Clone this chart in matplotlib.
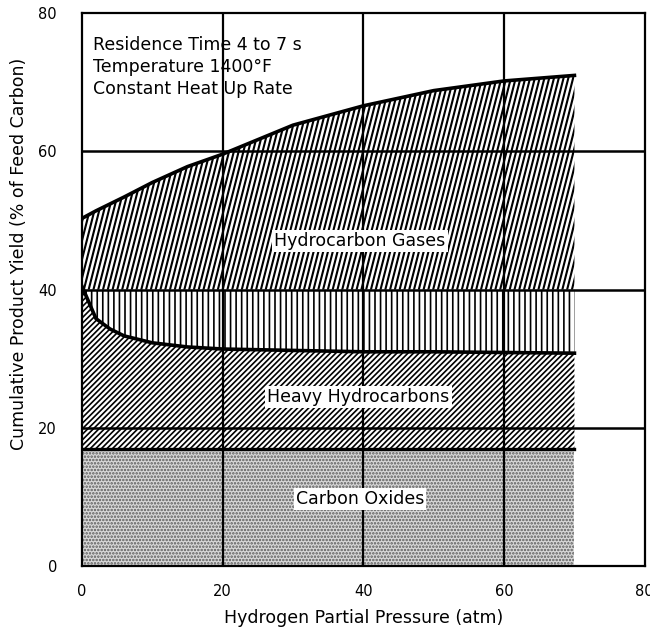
import numpy as np
import matplotlib
matplotlib.use('Agg')
import matplotlib.pyplot as plt
from matplotlib.collections import LineCollection

plt.rcParams['font.family'] = ['DejaVu Sans']
plt.rcParams['hatch.linewidth'] = 1.2

# hydrogen partial pressure (atm) and cumulative yields (% of feed carbon)
pressure = [0, 2, 4, 6, 10, 15, 20, 30, 40, 50, 60, 70]
oxides_top = [17.0, 17.0, 17.0, 17.0, 17.0, 17.0, 17.0, 17.0, 17.0, 17.0, 17.0, 17.0]
heavy_top = [40.5, 35.8, 34.3, 33.3, 32.3, 31.7, 31.4, 31.2, 31.0, 31.0, 30.9, 30.8]
gases_top = [50.3, 51.4, 52.4, 53.4, 55.5, 57.8, 59.6, 63.8, 66.6, 68.8, 70.2, 71.0]

x_ticks = [0, 20, 40, 60, 80]
y_ticks = [0, 20, 40, 60, 80]

fig = plt.figure(figsize=(6.5, 6.3), dpi=100)
ax = fig.add_axes([0.126, 0.1016, 0.866, 0.8774])
ax.set_xlim(0, 80)
ax.set_ylim(0, 80)

# carbon oxides: grey stipple
ax.fill_between(pressure, 0, oxides_top, facecolor='#d8d8d8', edgecolor='#5a5a5a',
                hatch='.....', linewidth=0, zorder=1)
# heavy hydrocarbons: 45 degree hatch
ax.fill_between(pressure, oxides_top, heavy_top, facecolor='white', edgecolor='black',
                hatch='//////', linewidth=0, zorder=1)
# hydrocarbon gases below 40: vertical hatch
lower = np.minimum(np.array(gases_top), 40)
ax.fill_between(pressure, heavy_top, lower, facecolor='white', edgecolor='black',
                hatch='|||', linewidth=0, zorder=1)
# hydrocarbon gases above 40: steep slanted hatch, clipped to the band
upper = ax.fill_between(pressure, lower, gases_top, facecolor='white', linewidth=0, zorder=1)
step = 0.0085
slant = 0.25
offsets = np.arange(-0.3, 1.0, step)
segs = [[(u, 0), (u + slant, 1)] for u in offsets]
lc = LineCollection(segs, colors='black', linewidths=1.5, transform=ax.transAxes, zorder=1.5)
ax.add_collection(lc)
lc.set_clip_path(upper.get_paths()[0], ax.transData)

# boundary curves
ax.plot(pressure, oxides_top, color='black', lw=2.4, zorder=3)
ax.plot(pressure, heavy_top, color='black', lw=2.6, zorder=3)
ax.plot(pressure, gases_top, color='black', lw=2.6, zorder=3)

# heavy grid
for v in x_ticks[1:-1]:
    ax.axvline(v, color='black', lw=1.6, zorder=2.5)
for v in y_ticks[1:-1]:
    ax.axhline(v, color='black', lw=1.8, zorder=2.5)

for s in ax.spines.values():
    s.set_linewidth(1.6)

ax.set_xticks(x_ticks)
ax.set_yticks(y_ticks)
ax.tick_params(axis='both', length=0, labelsize=10.5)
ax.tick_params(axis='x', pad=13)
ax.tick_params(axis='y', pad=18)

ax.set_xlabel('Hydrogen Partial Pressure (atm)', fontsize=12.5, va='center')
ax.xaxis.set_label_coords(0.5, -0.094)
ax.set_ylabel('Cumulative Product Yield (% of Feed Carbon)', fontsize=12.5, va='center')
ax.yaxis.set_label_coords(-0.112, 0.564)

box = dict(facecolor='white', edgecolor='none', pad=1.5)
ax.text(39.5, 47, 'Hydrocarbon Gases', ha='center', va='center', fontsize=12.5, bbox=box, zorder=4)
ax.text(39.3, 24.5, 'Heavy Hydrocarbons', ha='center', va='center', fontsize=12.5, bbox=box, zorder=4)
ax.text(39.5, 9.7, 'Carbon Oxides', ha='center', va='center', fontsize=12.5, bbox=box, zorder=4)

ax.text(1.6, 75.4, 'Residence Time 4 to 7 s', fontsize=12.5, va='center')
ax.text(1.6, 72.2, 'Temperature 1400°F', fontsize=12.5, va='center')
ax.text(1.6, 69.0, 'Constant Heat Up Rate', fontsize=12.5, va='center')

fig.savefig('out.png', dpi=100)
